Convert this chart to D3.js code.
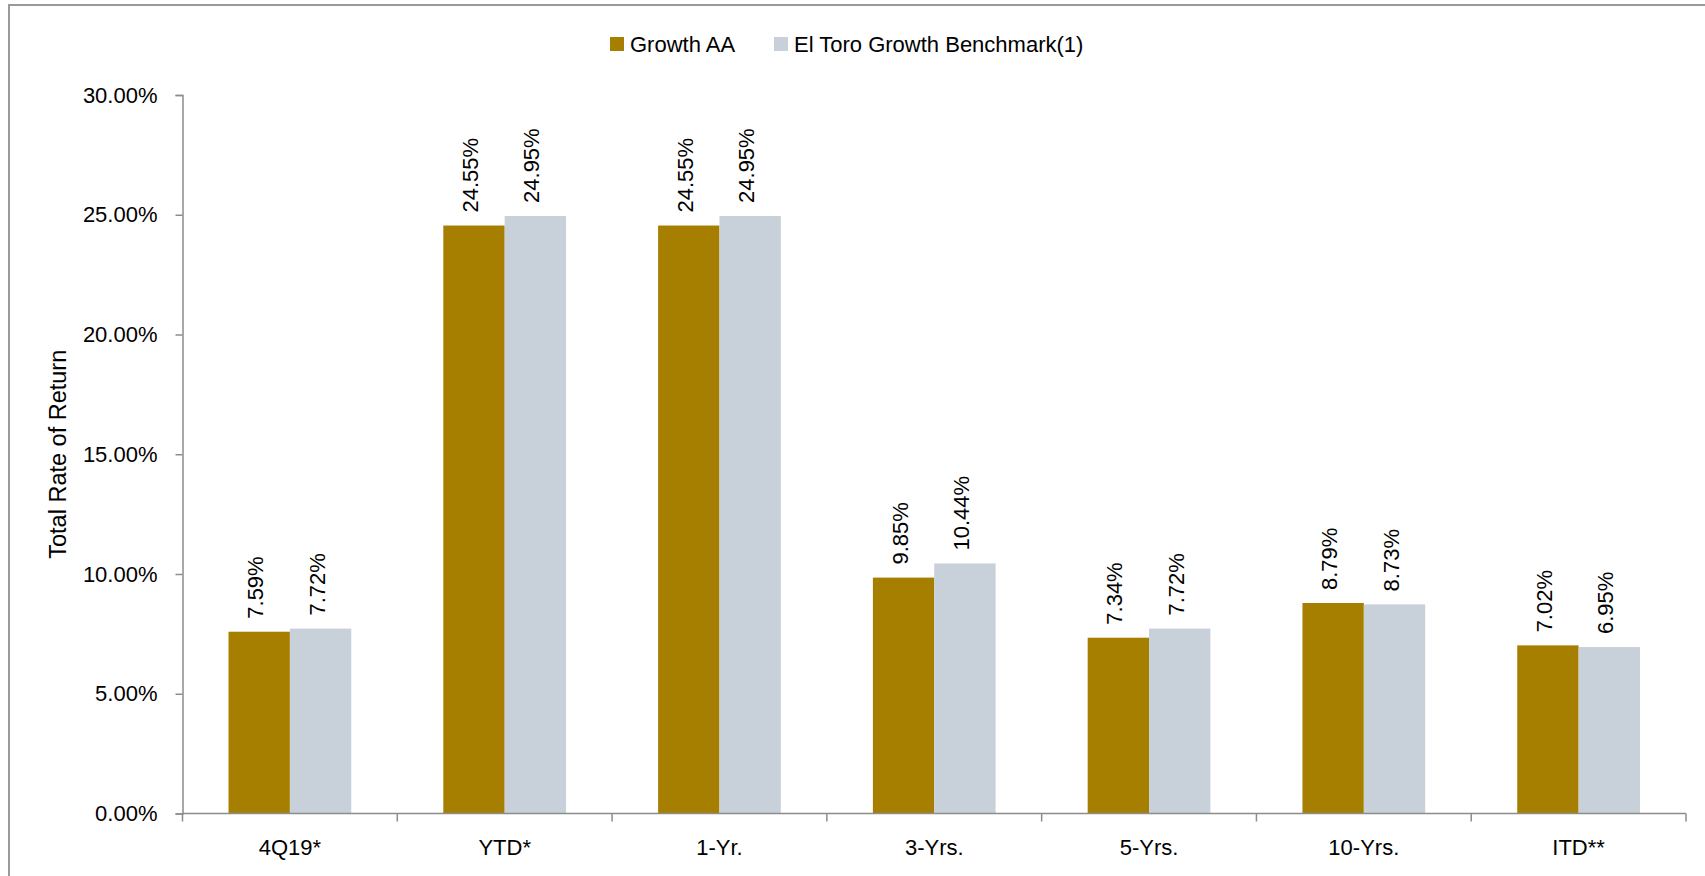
<!DOCTYPE html>
<html><head><meta charset="utf-8">
<script src="https://cdn.jsdelivr.net/npm/d3@7"></script>
<style>
html,body{margin:0;padding:0;background:#fff;}
svg{display:block;font-family:"Liberation Sans",Arial,sans-serif;}
</style></head>
<body>
<svg id="chart" width="1705" height="876"></svg>
<script>
const categories = ["4Q19*", "YTD*", "1-Yr.", "3-Yrs.", "5-Yrs.", "10-Yrs.", "ITD**"];
const seriesNames = ["Growth AA", "El Toro Growth Benchmark(1)"];
const growthAA = [7.59, 24.55, 24.55, 9.85, 7.34, 8.79, 7.02];
const benchmark = [7.72, 24.95, 24.95, 10.44, 7.72, 8.73, 6.95];
const yTicks = [0, 5, 10, 15, 20, 25, 30];
const colors = ["#A77F00", "#C8D0DA"];

const svg = d3.select("#chart");
const W = 1705, H = 876;
const pLeft = 182.5, pRight = 1686, pTop = 95, pBottom = 813.5;
const fs = 22;

// frame
svg.append("path").attr("d", `M9,${H+5} L9,5 L${W+5},5`).attr("fill","none")
  .attr("stroke","#9a9a9a").attr("stroke-width",2);

const x0 = d3.scaleBand().domain(categories).range([pLeft, pRight]).paddingInner(0.4286).paddingOuter(0.2143);
const x1 = d3.scaleBand().domain([0,1]).range([0, x0.bandwidth()]);
const y = d3.scaleLinear().domain([0, 30]).range([pBottom, pTop]);

const data = categories.map((c,i)=>({cat:c, vals:[growthAA[i], benchmark[i]]}));

// bars
const g = svg.append("g");
data.forEach(d=>{
  d.vals.forEach((v,k)=>{
    const bx = x0(d.cat) + x1(k);
    g.append("rect").attr("x", bx).attr("y", y(v)).attr("width", x1.bandwidth())
      .attr("height", pBottom - y(v)).attr("fill", colors[k]);
    g.append("text")
      .attr("transform", `translate(${bx + x1.bandwidth()/2 + 4},${y(v) - 13}) rotate(-90)`)
      .attr("font-size", fs).attr("fill","#000").attr("text-anchor","start")
      .text(v.toFixed(2) + "%");
  });
});

// y axis
const yAxis = d3.axisLeft(y).tickValues(yTicks).tickSize(7).tickPadding(18)
  .tickFormat(d=>d.toFixed(2)+"%");
const ya = svg.append("g").attr("transform",`translate(${pLeft},0)`).call(yAxis);
ya.selectAll("path,line").attr("stroke","#8c8c8c").attr("stroke-width",1.5);
ya.selectAll("text").attr("font-size",fs).attr("fill","#000").attr("font-family","Liberation Sans, Arial, sans-serif");

// x axis
const xa = svg.append("g");
xa.append("line").attr("x1",pLeft).attr("x2",pRight).attr("y1",pBottom).attr("y2",pBottom)
  .attr("stroke","#8c8c8c").attr("stroke-width",1.5);
const step = x0.step();
d3.range(categories.length+1).forEach(i=>{
  const xx = pLeft + i*step;
  xa.append("line").attr("x1",xx).attr("x2",xx).attr("y1",pBottom).attr("y2",pBottom+8)
    .attr("stroke","#8c8c8c").attr("stroke-width",1.5);
});
categories.forEach(c=>{
  xa.append("text").attr("x", x0(c)+x0.bandwidth()/2).attr("y", 855)
    .attr("text-anchor","middle").attr("font-size",fs).attr("fill","#000").text(c);
});

// y title
svg.append("text").attr("transform",`translate(66,${(pTop+pBottom)/2}) rotate(-90)`)
  .attr("text-anchor","middle").attr("font-size",23.5).attr("fill","#000").text("Total Rate of Return");

// legend
const lg = svg.append("g");
lg.append("rect").attr("x",610).attr("y",37).attr("width",14).attr("height",14).attr("fill",colors[0]);
lg.append("text").attr("x",630).attr("y",51.5).attr("font-size",fs).attr("fill","#000").text(seriesNames[0]);
lg.append("rect").attr("x",774).attr("y",37).attr("width",14).attr("height",14).attr("fill",colors[1]);
lg.append("text").attr("x",794).attr("y",51.5).attr("font-size",fs).attr("fill","#000").text(seriesNames[1]);
</script>
</body></html>
